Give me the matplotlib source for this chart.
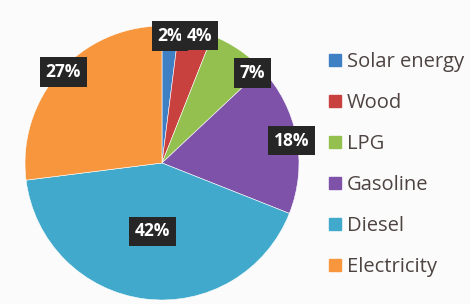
import matplotlib.pyplot as plt
from matplotlib.lines import Line2D
import numpy as np

categories = ['Solar energy', 'Wood', 'LPG', 'Gasoline', 'Diesel', 'Electricity']
shares = [2, 4, 7, 18, 42, 27]
colors = ['#3f7fc4', '#c9413f', '#93c04f', '#7d52a8', '#41a9cb', '#f7963c']

# where each percent box sits (radius, angle shift in degrees)
label_r = [0.93, 0.97, 0.93, 0.96, 0.505, 0.98]
label_shift = [0, -2, -11, -1, -1, -1.3]

plt.rcParams['font.family'] = ['Open Sans', 'DejaVu Sans']

fig = plt.figure(figsize=(4.7, 3.04), dpi=100)
fig.patch.set_facecolor('#fbfbfb')

ax = fig.add_axes([25 / 470, 4 / 304, 274 / 470, 274 / 304])
wedges, _ = ax.pie(shares, colors=colors, startangle=90, counterclock=False,
                   radius=1, wedgeprops=dict(linewidth=0.4, edgecolor='white'))
ax.set_xlim(-1, 1)
ax.set_ylim(-1, 1)
ax.axis('off')

for w, s, r, d in zip(wedges, shares, label_r, label_shift):
    ang = np.deg2rad((w.theta1 + w.theta2) / 2 + d)
    ax.text(r * np.cos(ang), r * np.sin(ang), f'{s}%', ha='center', va='center',
            color='white', fontsize=12.5, fontweight='bold',
            bbox=dict(boxstyle='square,pad=0.33', fc='#262626', ec='none'))

handles = [Line2D([], [], marker='s', ls='none', markersize=8.5, color=c) for c in colors]
leg = fig.legend(handles, categories, loc='upper left', bbox_to_anchor=(329 / 470, 1 - 52.5 / 304),
                 frameon=False, fontsize=14.5, labelspacing=1.04, handlelength=0.6,
                 handletextpad=0.3, borderaxespad=0, borderpad=0)
for t in leg.get_texts():
    t.set_color('#4d4340')

fig.savefig('out.png', dpi=100, facecolor=fig.get_facecolor())
